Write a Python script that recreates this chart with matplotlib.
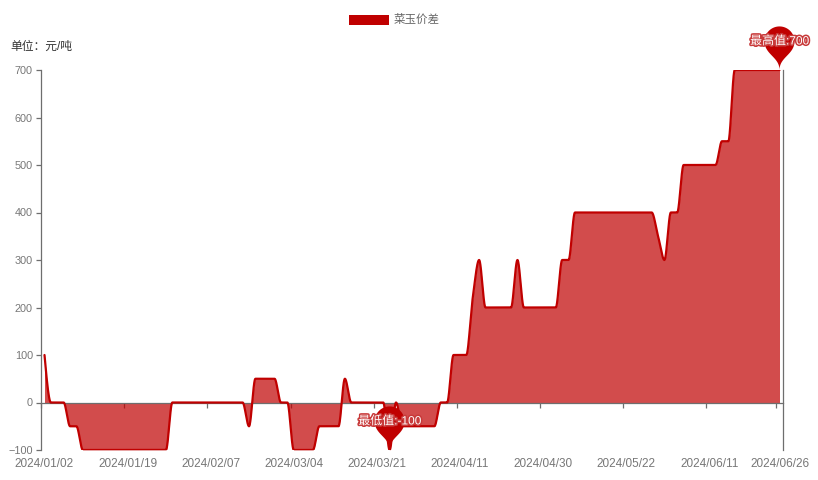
import numpy as np
import pandas as pd
import matplotlib
matplotlib.use('Agg')
import matplotlib.pyplot as plt
from matplotlib.patches import Polygon, Rectangle
import matplotlib.patheffects as pe

plt.rcParams['font.family'] = ['Liberation Sans', 'Noto Sans CJK SC']

# trading days, 2024/01/02 .. 2024/06/26
holidays = ['2024-02-09', '2024-02-12', '2024-02-13', '2024-02-14', '2024-02-15',
            '2024-02-16', '2024-04-04', '2024-04-05', '2024-05-01', '2024-05-02',
            '2024-05-03', '2024-06-10']
extra_days = ['2024-02-18']
days = pd.bdate_range('2024-01-02', '2024-06-26', freq='C', holidays=holidays)
days = days.append(pd.DatetimeIndex(extra_days)).sort_values()
dates = [d.strftime('%Y/%m/%d') for d in days]

# 菜玉价差, 元/吨
spread = [100, 0, 0, 0, -50, -50,
          -100, -100, -100, -100, -100, -100, -100, -100, -100, -100, -100, -100, -100, -100,
          0, 0, 0, 0, 0, 0, 0, 0, 0, 0, 0, 0,
          -50, 50, 50, 50, 50, 0, 0,
          -100, -100, -100, -100, -50, -50, -50, -50,
          50, 0, 0, 0, 0, 0, 0, -100, 0,
          -50, -50, -50, -50, -50, -50, 0,
          0, 100, 100, 100, 220, 300,
          200, 200, 200, 200, 200, 300, 200, 200, 200, 200, 200, 200,
          300, 300,
          400, 400, 400, 400, 400, 400, 400, 400, 400, 400, 400, 400, 400,
          350, 300, 400, 400,
          500, 500, 500, 500, 500, 500, 550, 550,
          700, 700, 700, 700, 700, 700, 700, 700]

label_dates = ['2024/01/02', '2024/01/19', '2024/02/07', '2024/03/04', '2024/03/21',
               '2024/04/11', '2024/04/30', '2024/05/22', '2024/06/11', '2024/06/26']
y_ticks = [-100, 0, 100, 200, 300, 400, 500, 600, 700]
series_name = '菜玉价差'
unit_text = '单位：元/吨'

RED = '#c00000'
AXIS = '#6e6e6e'
LABEL = '#777777'


def pchip(y, n_sub=40):
    # monotone cubic, close to echarts' smooth line
    y = np.asarray(y, float)
    delta = np.diff(y)
    d = np.zeros_like(y)
    for k in range(1, len(y) - 1):
        if delta[k - 1] * delta[k] > 0:
            d[k] = 2.0 / (1.0 / delta[k - 1] + 1.0 / delta[k])

    def end(d0, d1):
        t = (3 * d0 - d1) / 2
        if np.sign(t) != np.sign(d0):
            return 0.0
        if np.sign(d0) != np.sign(d1) and abs(t) > abs(3 * d0):
            return 3 * d0
        return t

    d[0] = end(delta[0], delta[1])
    d[-1] = end(delta[-1], delta[-2])
    t = np.linspace(0, 1, n_sub, endpoint=False)
    h00 = 2 * t**3 - 3 * t**2 + 1
    h10 = t**3 - 2 * t**2 + t
    h01 = -2 * t**3 + 3 * t**2
    h11 = t**3 - t**2
    xs, ys = [], []
    for k in range(len(y) - 1):
        xs.append(k + t)
        ys.append(h00 * y[k] + h10 * d[k] + h01 * y[k + 1] + h11 * d[k + 1])
    xs.append([len(y) - 1])
    ys.append([y[-1]])
    return np.concatenate(xs), np.concatenate(ys)


def bezier(p0, p1, p2, p3, n=20):
    t = np.linspace(0, 1, n)[:, None]
    p0, p1, p2, p3 = map(np.asarray, (p0, p1, p2, p3))
    return (1 - t)**3 * p0 + 3 * (1 - t)**2 * t * p1 + 3 * (1 - t) * t**2 * p2 + t**3 * p3


def pin_shape(x, y, size=50):
    # echarts 'pin' symbol, tip at (x, y), pixel coords with y down
    w = size / 5 * 3
    h = max(w, size)
    r = w / 2
    dy = r * r / (h - r)
    cy = y - h + r + dy
    ang = np.arcsin(dy / r)
    dx = np.cos(ang) * r
    tx, ty = np.sin(ang), np.cos(ang)
    cp1, cp2 = r * 0.6, r * 0.7
    th = np.linspace(np.pi - ang, 2 * np.pi + ang, 60)
    arc = np.column_stack([x + r * np.cos(th), cy + r * np.sin(th)])
    right = bezier((x + dx, cy + dy), (x + dx - tx * cp1, cy + dy + ty * cp1), (x, y - cp2), (x, y))
    left = bezier((x, y), (x, y - cp2), (x - dx + tx * cp1, cy + dy + ty * cp1), (x - dx, cy + dy))
    return np.vstack([arc, right, left]), cy


W, H = 818, 480
fig = plt.figure(figsize=(W / 100, H / 100), dpi=100)
ax = fig.add_axes([41.3 / W, 30 / H, 741.4 / W, 380 / H])

n = len(spread)
xs, ys = pchip(spread)
ax.fill_between(xs, ys, 0, color=RED, alpha=0.7, lw=0, zorder=2)
ax.plot(xs, ys, color=RED, lw=1.6, zorder=3, solid_capstyle='round')

ax.set_xlim(-0.5, n - 0.5)
ax.set_ylim(-100, 700)

ax.spines['top'].set_visible(False)
ax.spines['bottom'].set_position(('data', 0))
for s in ['left', 'right', 'bottom']:
    ax.spines[s].set_color(AXIS)
    ax.spines[s].set_linewidth(0.9)
ax.spines['bottom'].set_zorder(2.5)

label_pos = [dates.index(d) for d in label_dates]
ax.set_xticks([p - 0.5 for p in label_pos])
ax.set_xticklabels([])
ax.tick_params(axis='x', direction='out', length=3.6, width=0.9, color=AXIS)
ax.set_yticks(y_ticks)
ax.set_yticklabels([str(v).replace('-', '\u2212') for v in y_ticks])
ax.tick_params(axis='y', direction='out', length=3.6, width=0.9, color=AXIS,
               labelcolor=LABEL, labelsize=7.8, pad=2.5)

# overlay in pixel coordinates
ov = fig.add_axes([0, 0, 1, 1], zorder=5)
ov.set_xlim(0, W)
ov.set_ylim(H, 0)
ov.axis('off')


def to_px(x, y):
    dx, dy = ax.transData.transform((x, y))
    return dx, H - dy


for p, lab in zip(label_pos, label_dates):
    px, _ = to_px(p, 0)
    ov.text(px, 464, lab, ha='center', va='center', fontsize=8.5, color=LABEL)

# legend and unit
ov.add_patch(Rectangle((349, 15), 40, 9.5, color=RED, lw=0))
ov.text(394, 20, series_name, ha='left', va='center', fontsize=8.3, color='#666666')
ov.text(10, 47, unit_text, ha='left', va='center', fontsize=8.5, color='#333333')

# max / min mark points (last occurrence)
arr = np.asarray(spread)
i_max = n - 1 - int(np.argmax(arr[::-1]))
i_min = n - 1 - int(np.argmin(arr[::-1]))
for idx, name in [(i_max, '最高值'), (i_min, '最低值')]:
    px, py = to_px(idx, spread[idx])
    pts, cy = pin_shape(px, py)
    ov.add_patch(Polygon(pts, closed=True, fc=RED, ec='none'))
    ov.text(px, cy, f'{name}:{spread[idx]}', ha='center', va='center', fontsize=8.6,
            color='white',
            path_effects=[pe.withStroke(linewidth=2.2, foreground='#c83a3a')])

fig.savefig('out.png', dpi=100)
